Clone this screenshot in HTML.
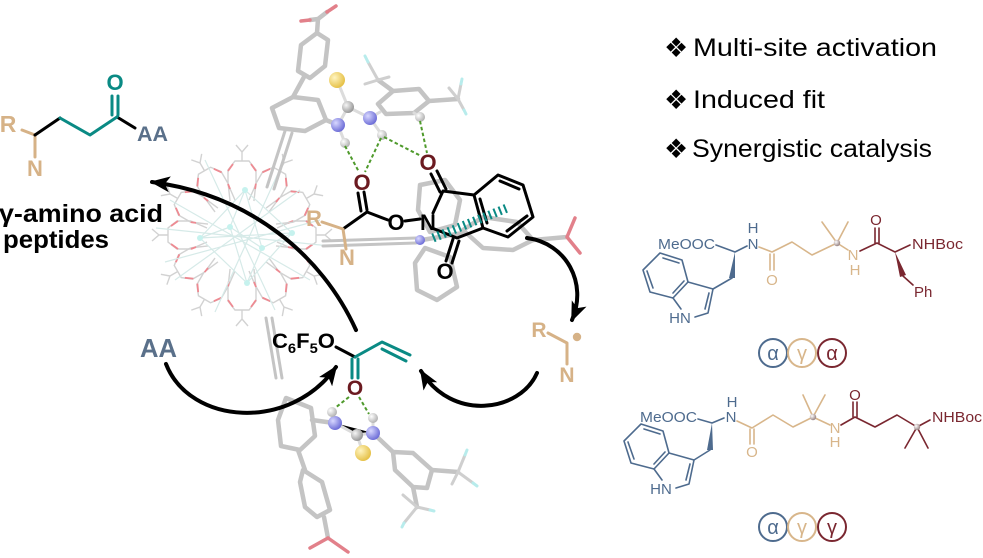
<!DOCTYPE html>
<html><head><meta charset="utf-8"><style>
html,body{margin:0;padding:0;background:#fff;}
svg{display:block;}
text{font-family:"Liberation Sans",Arial,sans-serif;}
.g{fill:none;stroke:#c4c4c4;stroke-width:4.5;stroke-linejoin:round;stroke-linecap:round}
.rd{fill:none;stroke:#e2808a;stroke-width:3.5;stroke-linecap:round}
.fg{fill:none;stroke:#cfcfcf;stroke-width:3;stroke-linecap:round}
.fl{fill:none;stroke:#b8ecec;stroke-width:3;stroke-linecap:round}
.k{fill:none;stroke:#000;stroke-width:3;stroke-linecap:round;stroke-linejoin:round}
.t{fill:none;stroke:#0a8a84;stroke-width:3;stroke-linecap:round;stroke-linejoin:round}
.tn{fill:none;stroke:#d6b287;stroke-width:3;stroke-linecap:round;stroke-linejoin:round}
.ar{fill:none;stroke:#000;stroke-width:4;stroke-linecap:round}
.gd{fill:none;stroke:#4f9a2c;stroke-width:2;stroke-dasharray:3.5 2.5}
.ps{fill:none;stroke:#4e6b8e;stroke-width:1.6;stroke-linecap:round;stroke-linejoin:round}
.pt{fill:none;stroke:#d8b68b;stroke-width:1.6;stroke-linecap:round;stroke-linejoin:round}
.pr{fill:none;stroke:#7a2730;stroke-width:1.6;stroke-linecap:round;stroke-linejoin:round}
.bt{font-weight:bold}
</style></head><body>
<svg width="983" height="558" viewBox="0 0 983 558" xmlns="http://www.w3.org/2000/svg">
<defs>
<marker id="ah" viewBox="0 0 20 16" refX="18" refY="8" markerWidth="20" markerHeight="16" markerUnits="userSpaceOnUse" orient="auto"><path d="M0,0 L20,8 L0,16 L5,8 z" fill="#000"/></marker>
<radialGradient id="gN" cx="35%" cy="35%" r="65%"><stop offset="0" stop-color="#d8d8ff"/><stop offset="1" stop-color="#7070d8"/></radialGradient>
<radialGradient id="gH" cx="35%" cy="35%" r="65%"><stop offset="0" stop-color="#ffffff"/><stop offset="1" stop-color="#b4b4b4"/></radialGradient>
<radialGradient id="gS" cx="35%" cy="35%" r="65%"><stop offset="0" stop-color="#fff4c0"/><stop offset="1" stop-color="#e6c24a"/></radialGradient>
<radialGradient id="gC" cx="35%" cy="35%" r="65%"><stop offset="0" stop-color="#f6f6f6"/><stop offset="1" stop-color="#9a9a9a"/></radialGradient>
<radialGradient id="gB" cx="35%" cy="35%" r="65%"><stop offset="0" stop-color="#ffffff"/><stop offset="1" stop-color="#9a8686"/></radialGradient>
<g id="lp">
 <path d="M-14,10 L-14,-4 L-7,-13 L7,-13 L14,-4 L14,10 M0,-13 L0,-22 L-6,-29 M0,-22 L6,-29 M-14,10 L-7,26 M14,10 L7,26" fill="none" stroke="#d2d2d2" stroke-width="1.4"/>
 <path d="M-14,-3 L-9,-10 M9,-10 L14,-3 M-14,10 L-12,15" stroke="#ee8a92" stroke-width="1.8" fill="none"/>
</g>
</defs>

<!-- ===== Zr cluster ===== -->
<g>
<use href="#lp" transform="translate(303,235) rotate(90)"/>
<use href="#lp" transform="translate(295,265) rotate(120)"/>
<use href="#lp" transform="translate(273,288) rotate(150)"/>
<use href="#lp" transform="translate(242,297) rotate(180)"/>
<use href="#lp" transform="translate(211,288) rotate(210)"/>
<use href="#lp" transform="translate(189,265) rotate(240)"/>
<use href="#lp" transform="translate(181,235) rotate(270)"/>
<use href="#lp" transform="translate(189,205) rotate(300)"/>
<use href="#lp" transform="translate(211,182) rotate(330)"/>
<use href="#lp" transform="translate(242,174) rotate(0)"/>
<use href="#lp" transform="translate(273,182) rotate(30)"/>
<use href="#lp" transform="translate(295,205) rotate(60)"/>
<g stroke="#d6eae8" stroke-width="1.2" fill="none">
<path d="M245,190 L230,227 L262,248 L292,233 L245,190 L200,238 L247,283 L292,233 M230,227 L200,238 M262,248 L247,283 M245,190 L262,248 M230,227 L247,283 M200,238 L292,233"/>
<path d="M156,228 L330,246 M165,262 L320,220 M205,160 L275,310 M285,158 L215,312 M170,200 L310,280 M175,280 L300,190"/>
</g>
<g fill="#c6f2ee"><circle cx="245" cy="190" r="3"/><circle cx="230" cy="227" r="3"/><circle cx="200" cy="238" r="3"/><circle cx="262" cy="248" r="3"/><circle cx="292" cy="233" r="3"/><circle cx="247" cy="283" r="3"/></g>
</g>

<!-- ===== grey linkers ===== -->
<path class="g" d="M310,20 L318,19 L327,12 M318,19 L317,33"/>
<path class="rd" d="M310,20 L301,21 M327,12 L336,6"/>
<polygon class="g" points="317,33 328,40 325,66 310,78 298,71 301,45"/>
<path class="g" d="M304,77 L293,97"/>
<polygon class="g" points="293,97 318,100 326,120 305,131 279,128 272,108"/>
<path class="g" d="M326,120 L338,125"/>
<path class="g" style="stroke-width:3" d="M285,131 L267,187 M292,133 L274,189"/>
<polygon class="g" points="378,104 393,91 419,89 429,101 414,113 386,114"/>
<path class="g" d="M429,101 L458,99 M393,91 L378,80"/>
<path class="fg" d="M458,99 L461,84 M458,99 L464,110 M458,99 L449,88 M378,80 L368,62 M378,80 L365,84 M378,80 L389,77"/>
<path class="fl" d="M461,84 L462,79 M464,110 L466,114 M368,62 L365,56"/>
<path class="g" style="stroke-width:3" d="M323,241 L416,238 M323,246 L416,243"/>
<polygon class="g" points="420,185 445,180 460,200 455,225 430,232 418,210"/>
<polygon class="g" points="425,248 450,257 457,287 437,300 417,290 415,263"/>
<path class="g" d="M422,240 L463,233"/>
<polygon class="g" points="463,230 483,217 517,222 533,240 513,250 483,248"/>
<path class="g" d="M533,240 L567,237"/>
<path class="rd" d="M567,237 L575,218 M567,237 L580,253"/>
<circle cx="420" cy="240" r="5" fill="url(#gN)"/>
<path class="g" style="stroke-width:3" d="M266,318 L276,378 M272,318 L282,378"/>
<polygon class="g" points="286,398 311,408 315,436 300,450 281,446 278,420"/>
<path class="g" d="M312,420 L334,423 M298,450 L305,470"/>
<polygon class="g" points="303,470 322,482 330,510 317,517 305,507 300,482"/>
<path class="g" d="M324,517 L328,538"/>
<path class="rd" d="M328,538 L310,548 M328,538 L348,552"/>
<path class="g" d="M373,433 L393,452"/>
<polygon class="g" points="393,452 413,453 432,470 427,488 413,487 395,470"/>
<path class="g" d="M432,470 L458,472 M413,487 L417,507"/>
<path class="fg" d="M458,472 L465,455 M458,472 L473,483 M458,472 L452,484 M417,507 L403,495 M417,507 L430,510 M417,507 L404,523"/>
<path class="fl" d="M465,455 L467,450 M473,483 L477,486 M404,523 L402,527 M430,510 L434,511"/>

<!-- thiourea top -->
<g stroke="#dcdcdc" stroke-width="3" stroke-linecap="round">
<path d="M337,80 L348,107 M348,107 L338,125 M348,107 L370,118 M338,125 L345,143 M370,118 L382,135 M370,118 L380,112 M414,113 L420,117"/>
</g>
<circle cx="337" cy="80" r="8" fill="url(#gS)"/>
<circle cx="348" cy="107" r="6" fill="url(#gC)"/>
<circle cx="338" cy="125" r="7" fill="url(#gN)"/>
<circle cx="370" cy="118" r="7" fill="url(#gN)"/>
<circle cx="345" cy="143" r="5" fill="url(#gH)"/>
<circle cx="382" cy="135" r="5" fill="url(#gH)"/>
<circle cx="420" cy="117" r="5" fill="url(#gH)"/>
<!-- thiourea bottom -->
<g stroke="#dcdcdc" stroke-width="3" stroke-linecap="round">
<path d="M335,423 L357,435 L373,433 M357,435 L363,453 M335,423 L332,413 M373,433 L373,418"/>
</g>
<circle cx="363" cy="453" r="8" fill="url(#gS)"/>
<circle cx="357" cy="435" r="6" fill="url(#gC)"/>
<circle cx="335" cy="423" r="7" fill="url(#gN)"/>
<circle cx="373" cy="433" r="7" fill="url(#gN)"/>
<circle cx="332" cy="412" r="5" fill="url(#gH)"/>
<circle cx="373" cy="418" r="5" fill="url(#gH)"/>

<path class="gd" d="M345,146 L359,172 M381,138 L365,172 M384,137 L421,156 M420,121 L427,153 M349,397 L335,408 M359,397 L369,414"/>

<!-- ===== top-left product ===== -->
<path class="tn" d="M22,130 L35,135 L35,157"/>
<path class="k" d="M35,135 L60,118 M117,117 L135,128"/>
<path class="t" d="M60,118 L90,135 L117,117 M112,115 L112,96 M118,115 L118,96"/>
<text x="8" y="132" class="bt" font-size="23" fill="#d6b287" text-anchor="middle">R</text>
<text x="35" y="176" class="bt" font-size="22" fill="#d6b287" text-anchor="middle">N</text>
<text x="115" y="90" class="bt" font-size="22" fill="#0a8a84" text-anchor="middle">O</text>
<text x="137" y="141" class="bt" font-size="21" fill="#5a708a" textLength="31" lengthAdjust="spacingAndGlyphs">AA</text>
<text x="-1" y="222" class="bt" font-size="25" fill="#000" textLength="164" lengthAdjust="spacingAndGlyphs">γ-amino acid</text>
<text x="3" y="248" class="bt" font-size="25" fill="#000" textLength="106" lengthAdjust="spacingAndGlyphs">peptides</text>

<!-- ===== top central molecule ===== -->
<path class="k" d="M361,211 L358,193 M367,210 L364,192 M367,212 L343,229 M367,212 L388,220 M405,221 L420,219 M433,213 L443,191 M440,192 L431,174 M446,189 L437,171 M443,191 L474,195 M432,228 L457,238 M453,239 L446,261 M459,241 L452,263 M457,238 L483,228"/>
<polygon class="k" points="474,195 498,175 523,185 533,217 508,237 483,228"/>
<path class="k" d="M480,199 L487,223 M500,181 L519,189 M527,216 L507,231"/>
<path class="tn" d="M322,222 L343,229 L346,249"/>
<path d="M433,238 L507,208" stroke="#0a8a84" stroke-width="9" stroke-dasharray="2 3.5" fill="none"/>
<text x="362" y="190" class="bt" font-size="22" fill="#6b1a20" text-anchor="middle">O</text>
<text x="428" y="170" class="bt" font-size="22" fill="#6b1a20" text-anchor="middle">O</text>
<text x="396" y="230" class="bt" font-size="22" fill="#000" text-anchor="middle">O</text>
<text x="428" y="230" class="bt" font-size="22" fill="#000" text-anchor="middle">N</text>
<text x="445" y="279" class="bt" font-size="22" fill="#000" text-anchor="middle">O</text>
<text x="314" y="226" class="bt" font-size="22" fill="#d6b287" text-anchor="middle">R</text>
<text x="347" y="265" class="bt" font-size="22" fill="#d6b287" text-anchor="middle">N</text>

<!-- ===== bottom acrylate ===== -->
<path class="k" d="M336,347 L355,357"/>
<path class="t" d="M352,359 L352,378 M358,359 L358,378 M355,357 L382,342 L410,355 M382,349 L406,361"/>
<text x="272" y="348" class="bt" font-size="21" fill="#000" textLength="63" lengthAdjust="spacingAndGlyphs">C<tspan font-size="14" dy="5">6</tspan><tspan dy="-5">F</tspan><tspan font-size="14" dy="5">5</tspan><tspan dy="-5">O</tspan></text>
<text x="355" y="395" class="bt" font-size="21" fill="#6b1a20" text-anchor="middle">O</text>
<text x="140" y="357" class="bt" font-size="26" fill="#5a708a" textLength="37" lengthAdjust="spacingAndGlyphs">AA</text>

<!-- radical -->
<path class="tn" d="M548,333 L567,343 L567,364"/>
<circle cx="577" cy="337" r="4.2" fill="#d6b287"/>
<text x="539" y="337" class="bt" font-size="21" fill="#d6b287" text-anchor="middle">R</text>
<text x="567" y="382" class="bt" font-size="21" fill="#d6b287" text-anchor="middle">N</text>

<!-- ===== arrows ===== -->
<path class="ar" d="M356,330 C322,255 250,195 152,182" marker-end="url(#ah)"/>
<path class="ar" d="M166,364 C190,425 290,432 336,367" marker-end="url(#ah)"/>
<path class="ar" d="M537,373 C520,412 452,422 421,371" marker-end="url(#ah)"/>
<path class="ar" d="M527,238 C566,243 588,283 572,320" marker-end="url(#ah)"/>

<!-- ===== bullets ===== -->
<g font-size="25" fill="#000">
<text x="664" y="57" font-family="DejaVu Sans, sans-serif" font-size="27">❖</text>
<text x="693" y="56" textLength="244" lengthAdjust="spacingAndGlyphs">Multi-site activation</text>
<text x="664" y="109" font-family="DejaVu Sans, sans-serif" font-size="27">❖</text>
<text x="693" y="108" textLength="132" lengthAdjust="spacingAndGlyphs">Induced fit</text>
<text x="664" y="158" font-family="DejaVu Sans, sans-serif" font-size="27">❖</text>
<text x="692" y="157" textLength="240" lengthAdjust="spacingAndGlyphs">Synergistic catalysis</text>
</g>

<!-- ===== peptide 1 ===== -->
<g font-size="15">
<text x="658" y="249" fill="#4e6b8e" textLength="57" lengthAdjust="spacingAndGlyphs">MeOOC</text>
<path class="ps" d="M716,245 L735,252 L747,246 M732,278 L713,289"/>
<polygon points="735,252 729,278 735,278" fill="#4e6b8e"/>
<polygon class="ps" points="660,253 682,260 688,282 673,298 650,292 643,270"/>
<path class="ps" d="M663,258 L679,263 M673,293 L684,281 M647,271 L653,288 M688,282 L713,289 L708,313 L695,317 M673,298 L681,309 M709,293 L705,309"/>
<text x="680" y="323" fill="#4e6b8e" text-anchor="middle">HN</text>
<text x="753" y="233" fill="#4e6b8e" text-anchor="middle">H</text>
<text x="753" y="249" fill="#4e6b8e" text-anchor="middle">N</text>
<path class="pt" d="M759,247 L772,252 L792,242 L812,255 L837,243 M770,254 L770,270 M774,254 L774,270 M837,243 L822,222 M837,243 L848,222 M837,243 L848,250"/>
<text x="772" y="285" fill="#d8b68b" text-anchor="middle">O</text>
<text x="853" y="260" fill="#d8b68b" text-anchor="middle">N</text>
<text x="855" y="275" fill="#d8b68b" text-anchor="middle">H</text>
<circle cx="837" cy="243" r="3.2" fill="url(#gB)"/>
<path class="pr" d="M860,251 L877,243 L895,252 L910,245 M875,243 L875,228 M879,243 L879,228 M903,276 L913,285"/>
<polygon points="895,252 900,277 906,275" fill="#7a2730"/>
<text x="876" y="225" fill="#7a2730" text-anchor="middle">O</text>
<text x="912" y="249" fill="#7a2730" textLength="51" lengthAdjust="spacingAndGlyphs">NHBoc</text>
<text x="914" y="297" fill="#7a2730">Ph</text>
</g>
<g fill="none" stroke-width="2">
<circle cx="773" cy="353" r="14" stroke="#4e6b8e"/>
<circle cx="802" cy="353" r="14" stroke="#d8b68b"/>
<circle cx="832" cy="353" r="14" stroke="#7a2730"/>
</g>
<g font-size="20" text-anchor="middle">
<text x="773" y="360" fill="#4e6b8e">α</text>
<text x="802" y="360" fill="#d8b68b">γ</text>
<text x="832" y="360" fill="#7a2730">α</text>
</g>

<!-- ===== peptide 2 ===== -->
<g font-size="15">
<text x="640" y="422" fill="#4e6b8e" textLength="57" lengthAdjust="spacingAndGlyphs">MeOOC</text>
<path class="ps" d="M698,419 L712,423 L724,418 M710,450 L694,460"/>
<polygon points="712,423 707,450 713,450" fill="#4e6b8e"/>
<g transform="translate(-19,171)">
<polygon class="ps" points="660,253 682,260 688,282 673,298 650,292 643,270"/>
<path class="ps" d="M663,258 L679,263 M673,293 L684,281 M647,271 L653,288 M688,282 L713,289 L708,313 L695,317 M673,298 L681,309 M709,293 L705,309"/>
</g>
<text x="661" y="494" fill="#4e6b8e" text-anchor="middle">HN</text>
<text x="732" y="407" fill="#4e6b8e" text-anchor="middle">H</text>
<text x="731" y="422" fill="#4e6b8e" text-anchor="middle">N</text>
<path class="pt" d="M737,421 L752,428 L773,415 L793,427 L813,417 M750,429 L750,444 M754,429 L754,444 M813,417 L803,395 M813,417 L825,395 M813,417 L830,425"/>
<text x="752" y="457" fill="#d8b68b" text-anchor="middle">O</text>
<text x="835" y="433" fill="#d8b68b" text-anchor="middle">N</text>
<text x="835" y="447" fill="#d8b68b" text-anchor="middle">H</text>
<circle cx="813" cy="417" r="3.2" fill="url(#gB)"/>
<path class="pr" d="M841,425 L855,417 L875,427 L897,415 L917,427 L930,420 M853,417 L853,402 M857,417 L857,402 M917,427 L905,448 M917,427 L928,448"/>
<circle cx="917" cy="427" r="3.2" fill="url(#gB)"/>
<text x="855" y="400" fill="#7a2730" text-anchor="middle">O</text>
<text x="932" y="422" fill="#7a2730" textLength="50" lengthAdjust="spacingAndGlyphs">NHBoc</text>
</g>
<g fill="none" stroke-width="2">
<circle cx="773" cy="527" r="14" stroke="#4e6b8e"/>
<circle cx="802" cy="527" r="14" stroke="#d8b68b"/>
<circle cx="832" cy="527" r="14" stroke="#7a2730"/>
</g>
<g font-size="20" text-anchor="middle">
<text x="773" y="534" fill="#4e6b8e">α</text>
<text x="802" y="534" fill="#d8b68b">γ</text>
<text x="832" y="534" fill="#7a2730">γ</text>
</g>
</svg>
</body></html>
